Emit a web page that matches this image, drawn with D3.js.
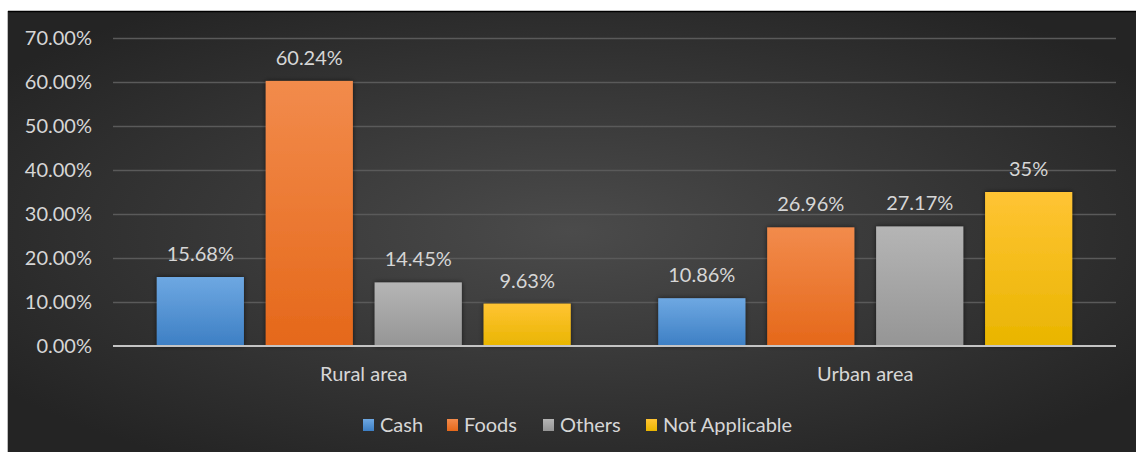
<!DOCTYPE html>
<html>
<head>
<meta charset="utf-8">
<script src="https://cdn.jsdelivr.net/npm/d3@7/dist/d3.min.js"></script>
<style>
  html, body { margin: 0; padding: 0; background: #ffffff; }
  svg { display: block; }
  text { font-family: Lato, "Open Sans", sans-serif; }
</style>
</head>
<body>
<svg id="chart" width="1136" height="452"></svg>
<script>
// Share of respondents by type of support received, per area
const areas = ["Rural area", "Urban area"];
const seriesNames = ["Cash", "Foods", "Others", "Not Applicable"];
const cashValues = [15.68, 10.86];
const foodsValues = [60.24, 26.96];
const othersValues = [14.45, 27.17];
const notApplicableValues = [9.63, 35];
const valueLabels = [
  ["15.68%", "60.24%", "14.45%", "9.63%"],
  ["10.86%", "26.96%", "27.17%", "35%"]
];
const yTicks = [0, 10, 20, 30, 40, 50, 60, 70];

const seriesValues = [cashValues, foodsValues, othersValues, notApplicableValues];
const colorsTop = ["#6ea8e2", "#f28b4c", "#b5b5b5", "#ffc434"];
const colorsBottom = ["#3d7fc4", "#e5681a", "#959595", "#e9b500"];
const fontSize = 20;

const svg = d3.select("#chart");
const defs = svg.append("defs");

// Dark vignette background
const bg = defs.append("radialGradient").attr("id", "bg")
  .attr("cx", "50%").attr("cy", "50%").attr("r", "62%");
bg.append("stop").attr("offset", "0%").attr("stop-color", "#4b4b4b");
bg.append("stop").attr("offset", "100%").attr("stop-color", "#242424");

seriesNames.forEach((s, i) => {
  const g = defs.append("linearGradient").attr("id", "g" + i)
    .attr("x1", 0).attr("y1", 0).attr("x2", 0).attr("y2", 1);
  g.append("stop").attr("offset", "0%").attr("stop-color", colorsTop[i]);
  g.append("stop").attr("offset", "100%").attr("stop-color", colorsBottom[i]);
});

const shadow = defs.append("filter").attr("id", "shadow")
  .attr("x", "-20%").attr("y", "-20%").attr("width", "140%").attr("height", "140%");
shadow.append("feDropShadow").attr("dx", 0).attr("dy", 0)
  .attr("stdDeviation", 2.5).attr("flood-color", "#000").attr("flood-opacity", 0.6);

// Chart area
svg.append("rect").attr("x", 8).attr("y", 11).attr("width", 1128).attr("height", 441)
  .attr("fill", "url(#bg)");
svg.append("line").attr("x1", 7.5).attr("x2", 7.5).attr("y1", 11).attr("y2", 452)
  .attr("stroke", "#bdbdbd").attr("stroke-width", 1);
svg.append("line").attr("x1", 8).attr("x2", 1136).attr("y1", 11.5).attr("y2", 11.5)
  .attr("stroke", "#000").attr("stroke-width", 1.5);

const plotLeft = 113, plotRight = 1116, plotTop = 38, plotBottom = 346;

const y = d3.scaleLinear().domain([0, 70]).range([plotBottom, plotTop]);
const x0 = d3.scaleBand().domain(areas).range([plotLeft, plotRight])
  .paddingInner(0.1745).paddingOuter(0.0873);
const x1 = d3.scaleBand().domain(seriesNames).range([0, x0.bandwidth()])
  .paddingInner(0.2);

const textColor = "#d6d6d6";

// Gridlines
svg.append("g").selectAll("line").data(yTicks.filter(t => t > 0)).join("line")
  .attr("x1", plotLeft).attr("x2", plotRight)
  .attr("y1", d => Math.round(y(d)) + 0.5).attr("y2", d => Math.round(y(d)) + 0.5)
  .attr("stroke", "#5a5a5a").attr("stroke-width", 1.5);

// Y axis tick labels
const yAxis = d3.axisLeft(y).tickValues(yTicks).tickSize(0).tickPadding(0)
  .tickFormat(d => d.toFixed(2) + "%");
const yg = svg.append("g").attr("transform", "translate(92,0)").call(yAxis);
yg.select(".domain").remove();
yg.selectAll("text").attr("fill", textColor).attr("font-size", fontSize)
  .attr("font-family", "Lato, 'Open Sans', sans-serif");

// Bars
const groups = svg.append("g").selectAll("g").data(areas).join("g")
  .attr("transform", d => `translate(${x0(d)},0)`);

groups.each(function(area, ai) {
  const g = d3.select(this);
  const data = seriesNames.map((s, si) => ({ s, si, v: seriesValues[si][ai], label: valueLabels[ai][si] }));
  g.selectAll("rect").data(data).join("rect")
    .attr("x", d => x1(d.s))
    .attr("width", x1.bandwidth())
    .attr("y", d => y(d.v))
    .attr("height", d => y(0) - y(d.v))
    .attr("fill", d => `url(#g${d.si})`)
    .attr("filter", "url(#shadow)");
  g.selectAll("text").data(data).join("text")
    .attr("x", d => x1(d.s) + x1.bandwidth() / 2)
    .attr("y", d => y(d.v) - 16)
    .attr("text-anchor", "middle")
    .attr("fill", textColor).attr("font-size", fontSize)
    .text(d => d.label);
});

// Baseline
svg.append("line").attr("x1", plotLeft).attr("x2", plotRight)
  .attr("y1", y(0)).attr("y2", y(0))
  .attr("stroke", "#c4c4c4").attr("stroke-width", 2);

// Category labels
const xAxis = d3.axisBottom(x0).tickSize(0).tickPadding(0);
const xg = svg.append("g").attr("transform", "translate(0,367)").call(xAxis);
xg.select(".domain").remove();
xg.selectAll("text").attr("fill", textColor).attr("font-size", fontSize)
  .attr("font-family", "Lato, 'Open Sans', sans-serif");

// Legend
const legendX = [363, 447, 543, 646];
const legend = svg.append("g").selectAll("g").data(seriesNames).join("g")
  .attr("transform", (d, i) => `translate(${legendX[i]},419)`);
legend.append("rect").attr("width", 11).attr("height", 12)
  .attr("fill", (d, i) => `url(#g${i})`);
legend.append("text").attr("x", 17).attr("y", 13)
  .attr("fill", textColor).attr("font-size", fontSize)
  .text(d => d);
</script>
</body>
</html>
